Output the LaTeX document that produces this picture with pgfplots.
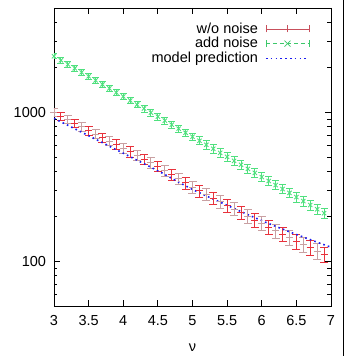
\documentclass[border=0pt]{standalone}
\usepackage{pgfplots}
\pgfplotsset{compat=1.18}
\usepackage{pgfplotstable}
\usepackage{fontspec}
\setmainfont{Liberation Sans}
\definecolor{redA}{HTML}{E8323C}
\definecolor{redB}{HTML}{C9A0A2}
\definecolor{legRed}{HTML}{C8505C}
\definecolor{grn}{HTML}{4FE07E}
\definecolor{legGrn}{HTML}{3CC86A}
\definecolor{mblue}{HTML}{1A1AF0}

\pgfplotstableread{
x y e
3.0 995 60
3.2 891 56
3.4 796 53
3.6 713 49
3.8 640 46
4.0 574 43
4.2 513 40
4.4 458 37
4.6 406 34
4.8 357 31
5.0 314 28.5
5.2 281 26.4
5.4 251 24.3
5.6 224 22.4
5.8 200 20.6
6.0 179 19.0
6.2 160 17.5
6.4 144 16.2
6.6 130 15.0
6.8 117 13.9
}\redeven

\pgfplotstableread{
x y e
3.1 942 58
3.3 841 54
3.5 753 51
3.7 676 48
3.9 607 45
4.1 542 42
4.3 484 39
4.5 433 36
4.7 380 33
4.9 335 30
5.1 297 27.4
5.3 265 25.3
5.5 237 23.3
5.7 212 21.5
5.9 189 19.8
6.1 169 18.2
6.3 152 16.8
6.5 136 15.5
6.7 123 14.4
6.9 111 13.3
}\redodd

\pgfplotstableread{
x y e
3.0 2371 95
3.1 2228 91
3.2 2094 86
3.3 1968 83
3.4 1849 80
3.5 1738 77
3.6 1633 74
3.7 1535 71
3.8 1442 68
3.9 1355 65
4.0 1274 62
4.1 1197 60
4.2 1125 58
4.3 1057 55
4.4 993 53
4.5 933 51
4.6 877 49
4.7 824 47
4.8 775 45
4.9 728 43
5.0 684 41
5.1 643 39.6
5.2 604 37.8
5.3 568 36.1
5.4 533 34.4
5.5 501 32.8
5.6 471 31.3
5.7 443 29.9
5.8 416 28.4
5.9 391 27.1
6.0 367 25.8
6.1 345 24.6
6.2 324 23.4
6.3 305 22.3
6.4 287 21.3
6.5 269 20.2
6.6 253 19.3
6.7 238 18.4
6.8 223 17.4
6.9 210 16.8
}\green

\begin{document}
\fontsize{14.5}{16.5}\selectfont
\begin{tikzpicture}
\begin{axis}[
  at={(0,0)}, anchor=south west,
  scale only axis, width=277pt, height=298pt,
  xmin=3, xmax=7, ymin=50, ymax=5000, ymode=log,
  xtick={3,3.5,4,4.5,5,5.5,6,6.5,7},
  xticklabels={3,3.5,4,4.5,5,5.5,6,6.5,7},
  ytick={100,1000}, yticklabels={100,1000},
  minor ytick={50,60,70,80,90,200,300,400,500,600,700,800,900,2000,3000,4000,5000},
  xtick pos=both, ytick pos=both,
  xticklabel pos=bottom, yticklabel pos=left,
  tick align=inside,
  major tick length=6pt, minor tick length=3.5pt,
  every tick/.style={black, line width=0.8pt},
  axis line style={line width=0.8pt},
  xticklabel style={yshift=-4pt},
  yticklabel style={xshift=-3pt},
  /pgf/number format/assume math mode=true,
  xlabel={ν},
  xlabel style={at={(axis description cs:0.5,0)}, anchor=center, yshift=-42pt},
  legend style={draw=none, fill=none, at={(0.924,0.955)}, anchor=north east,
    font=\fontsize{14.5}{16.5}\selectfont, inner sep=0pt, row sep=0pt,
    nodes={inner sep=1pt}},
  legend cell align=right,
  legend plot pos=right,
]
\addlegendimage{legend image code/.code={
  \path[draw=none] (0pt,0pt) -- (50pt,0pt);
  \draw[legRed, line width=0.8pt] (7pt,0pt) -- (50pt,0pt);
  \draw[legRed, line width=0.8pt] (7pt,-3.5pt) -- (7pt,3.5pt);
  \draw[legRed, line width=0.8pt] (28.5pt,-3.5pt) -- (28.5pt,3.5pt);
  \draw[legRed, line width=0.8pt] (50pt,-3.5pt) -- (50pt,3.5pt);}}
\addlegendentry{w/o noise}
\addlegendimage{legend image code/.code={
  \path[draw=none] (0pt,0pt) -- (50pt,0pt);
  \draw[legGrn, line width=0.8pt, dash pattern=on 4pt off 3pt] (7pt,0pt) -- (50pt,0pt);
  \draw[legGrn, line width=0.8pt] (7pt,-3.5pt) -- (7pt,3.5pt);
  \draw[legGrn, line width=0.8pt] (50pt,-3.5pt) -- (50pt,3.5pt);
  \draw[legGrn, line width=0.8pt] (25.5pt,-3pt) -- (31.5pt,3pt);
  \draw[legGrn, line width=0.8pt] (25.5pt,3pt) -- (31.5pt,-3pt);}}
\addlegendentry{add noise}
\addlegendimage{legend image code/.code={
  \path[draw=none] (0pt,0pt) -- (50pt,0pt);
  \draw[mblue, line width=1.6pt, dash pattern=on 1.6pt off 3.2pt] (7pt,0pt) -- (50pt,0pt);}}
\addlegendentry{model prediction}

\addplot[forget plot, only marks, redB, mark=+, mark size=3.5pt, line width=0.9pt,
  error bars/.cd, y dir=both, y explicit,
  error bar style={line width=0.9pt, redB},
  error mark options={rotate=90, mark size=4pt, line width=0.9pt, redB}]
  table[x=x, y=y, y error=e] {\redeven};
\addplot[forget plot, only marks, redA, mark=+, mark size=3.5pt, line width=0.9pt,
  error bars/.cd, y dir=both, y explicit,
  error bar style={line width=0.9pt, redA},
  error mark options={rotate=90, mark size=4pt, line width=0.9pt, redA}]
  table[x=x, y=y, y error=e] {\redodd};
\addplot[forget plot, only marks, grn, mark=x, mark size=3pt, line width=0.9pt,
  error bars/.cd, y dir=both, y explicit,
  error bar style={line width=0.9pt, grn},
  error mark options={rotate=90, mark size=3.5pt, line width=0.9pt, grn}]
  table[x=x, y=y, y error=e] {\green};
\addplot[forget plot, mblue, line width=1.6pt, dash pattern=on 1.6pt off 3.2pt, smooth]
  coordinates {(3,908) (3.5,695) (4,530) (4.5,404) (5,303) (5.5,237) (6,187) (6.5,151) (7,124)};
\end{axis}
\draw[line width=0.8pt] (289pt,-50pt) -- (289pt,306pt);
\pgfresetboundingbox
\path (-54pt,-50pt) rectangle (293pt,306pt);
\end{tikzpicture}
\end{document}
